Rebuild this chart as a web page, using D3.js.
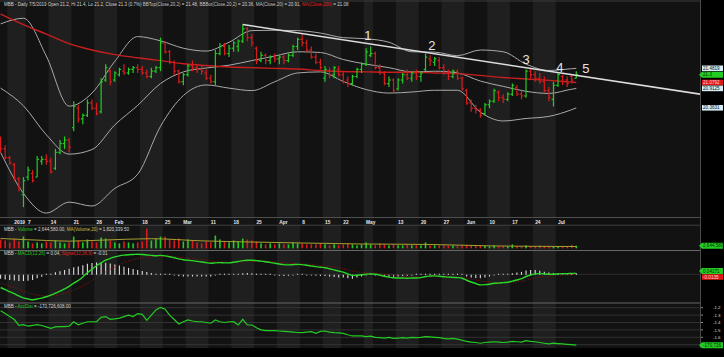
<!DOCTYPE html>
<html><head><meta charset="utf-8">
<script src="https://cdn.jsdelivr.net/npm/d3@7"></script>
<style>
html,body{margin:0;padding:0;background:#000;overflow:hidden}
svg{display:block}
text{font-family:"Liberation Sans",Arial,sans-serif;white-space:pre}
</style></head><body>
<svg id="c" width="724" height="357"></svg>
<script>
// ---------------- DATA ----------------
const firstDay = "2018-12-27", lastDay = "2019-07-05";
const holidays = ["2019-01-01","2019-02-04","2019-02-05","2019-02-06","2019-02-07","2019-02-08","2019-04-15","2019-04-29","2019-04-30","2019-05-01"];

const openP = [19.50,19.20,18.95,18.75,18.35,17.90,18.40,18.50,18.40,18.85,
18.90,18.85,18.65,19.10,19.35,19.45,19.80,20.35,20.05,20.15,
20.50,20.35,20.25,21.15,21.40,21.15,21.30,21.40,21.35,21.45,
21.50,21.45,21.35,21.25,21.40,21.50,22.20,21.95,21.65,21.40,
21.10,21.30,21.55,21.50,21.45,21.35,21.20,21.10,21.90,22.10,
21.90,22.05,22.10,22.25,22.60,22.35,22.05,21.70,21.85,21.70,
21.80,21.75,21.80,21.70,21.85,22.10,22.30,22.20,22.00,21.80,
21.65,21.20,21.40,21.30,21.45,21.30,21.15,21.05,21.25,21.45,
21.60,21.85,21.90,21.50,21.35,21.05,21.15,20.90,21.15,21.30,
21.20,21.35,21.25,21.45,21.75,21.65,21.70,21.50,21.35,21.25,
21.40,21.20,20.85,20.50,20.35,20.30,20.20,20.45,20.55,20.80,
20.65,20.60,20.75,20.95,20.75,20.70,21.40,21.30,21.20,21.10,
20.85,20.60,21.00,21.25,21.15,21.25,21.20];
const highP = [19.55,19.30,19.00,18.80,18.40,18.40,18.70,18.60,19.00,19.00,
19.05,18.95,19.20,19.45,19.55,19.50,20.55,20.45,20.20,20.60,
20.60,20.50,21.20,21.60,21.45,21.40,21.50,21.60,21.50,21.55,
21.60,21.55,21.45,21.50,21.55,22.35,22.25,22.00,21.70,21.45,
21.35,21.60,21.70,21.60,21.55,21.45,21.30,22.00,22.20,22.20,
22.15,22.25,22.30,22.72,22.65,22.45,22.10,21.95,21.90,21.85,
21.90,21.85,21.85,21.90,22.15,22.35,22.45,22.30,22.10,21.90,
21.75,21.55,21.50,21.55,21.55,21.40,21.25,21.30,21.50,21.65,
22.05,22.10,21.95,21.60,21.40,21.25,21.20,21.20,21.35,21.45,
21.40,21.45,21.40,21.90,21.85,21.80,21.80,21.60,21.45,21.45,
21.45,21.25,20.90,20.60,20.45,20.35,20.50,20.60,20.90,20.85,
20.75,20.80,21.05,21.00,20.85,21.45,21.50,21.40,21.35,21.25,
20.95,21.10,21.35,21.30,21.25,21.30,21.40];
const lowP = [19.10,18.90,18.75,18.30,18.00,17.55,18.30,18.25,18.40,18.75,
18.75,18.50,18.60,19.05,19.20,19.10,19.70,19.95,19.90,20.10,
20.30,20.15,20.20,21.10,21.00,21.10,21.25,21.30,21.30,21.35,
21.35,21.30,21.20,21.20,21.35,21.40,21.90,21.60,21.30,21.05,
21.00,21.25,21.40,21.35,21.30,21.15,21.05,21.00,21.85,21.85,
21.80,21.95,21.95,22.20,22.25,22.10,21.60,21.65,21.60,21.60,
21.65,21.60,21.60,21.65,21.80,22.00,22.10,21.95,21.75,21.60,
21.45,21.10,21.20,21.20,21.25,21.05,20.95,21.00,21.20,21.35,
21.55,21.80,21.45,21.30,21.00,20.95,20.80,20.85,21.05,21.15,
21.10,21.15,21.10,21.40,21.55,21.55,21.45,21.30,21.15,21.20,
21.15,20.85,20.45,20.25,20.20,20.08,20.15,20.35,20.50,20.55,
20.50,20.55,20.70,20.70,20.60,20.65,21.20,21.10,21.05,20.80,
20.55,20.40,20.95,21.00,20.95,21.05,21.20];
const closeP = [19.20,18.95,18.80,18.35,18.10,18.30,18.60,18.30,18.90,18.90,
18.85,18.55,19.10,19.35,19.45,19.25,20.40,20.05,20.15,20.50,
20.35,20.20,21.10,21.50,21.10,21.35,21.45,21.35,21.45,21.50,
21.45,21.35,21.25,21.40,21.50,22.20,21.95,21.65,21.40,21.10,
21.30,21.55,21.50,21.45,21.40,21.20,21.10,21.90,22.10,21.90,
22.05,22.20,22.25,22.60,22.35,22.20,21.70,21.85,21.70,21.80,
21.75,21.80,21.70,21.85,22.10,22.30,22.20,22.00,21.80,21.65,
21.50,21.45,21.30,21.50,21.30,21.10,21.05,21.25,21.45,21.60,
21.95,21.90,21.50,21.35,21.05,21.15,20.85,21.15,21.30,21.20,
21.35,21.25,21.35,21.80,21.70,21.75,21.50,21.35,21.25,21.40,
21.20,20.90,20.50,20.35,20.30,20.15,20.45,20.55,20.85,20.65,
20.60,20.75,21.00,20.75,20.70,21.40,21.30,21.20,21.10,20.85,
20.65,21.00,21.30,21.10,21.05,21.15,21.30];

// Bollinger bands / moving averages read at sampled bars
const bandIdx = [0,5,10,15,20,25,30,35,40,45,50,55,60,65,70,75,80,85,90,95,100,105,110,115,120,125,126];
const bbTop = [22.74,22.90,21.83,20.41,20.78,21.68,22.38,22.26,22.05,21.97,22.22,22.55,22.56,22.55,22.48,22.35,22.32,22.22,21.95,21.94,21.84,22.00,21.95,21.60,21.42,21.47,21.48];
const bbMid = [20.92,20.42,19.60,19.05,19.18,19.88,20.43,21.05,21.38,21.49,21.57,21.70,21.83,21.95,21.93,21.73,21.60,21.50,21.38,21.40,21.35,21.12,20.97,20.83,20.77,20.89,20.91];
const bbBot = [19.10,17.94,17.38,17.69,17.58,18.08,18.48,19.84,20.71,21.01,20.92,20.85,21.10,21.35,21.38,21.11,20.88,20.78,20.81,20.86,20.86,20.24,19.99,20.06,20.12,20.31,20.36];
const ma200 = [23.02,22.72,22.45,22.18,22.00,21.87,21.78,21.70,21.61,21.56,21.52,21.50,21.48,21.46,21.42,21.39,21.38,21.37,21.37,21.35,21.33,21.28,21.22,21.18,21.14,21.09,21.08];

// trendline and wave labels (bar index, price)
const trendIdx = [53, 153.1];
const trendPrice = [22.72, 20.75];
const waveLabels = ["1","2","3","4","5"];
const waveIdx = [80.4, 94.4, 115, 122.4, 128.1];
const wavePrice = [22.41, 22.14, 21.72, 21.52, 21.48];

// volume (millions)
const volume = [9,8,6,10,7,12,7,5,6,5, 7,6,8,6,5,6,12,8,6,9, 7,6,11,10,8,6,5,7,6,5,
6,7,20,8,10,12,12,9,8,10, 7,9,8,6,5,7,6,13,9,7, 6,8,7,10,9,8,7,5,4,5,
4,5,4,4,6,5,5,4,4,4, 5,4,3,4,3,4,5,4,3,4, 6,4,3,5,4,3,4,3,3,4,
3,3,3,6,3,3,3,3,2.5,3, 2.5,3,3.5,3,2.5,3,2.5,2,3,2, 2,2,4,2,2,3,2,2,3,2,
2.5,2,2,1.5,2,3.5,2.64];
const volMaIdx = [0,10,15,22,33,44,55,66,79,94,108,126];
const volMa = [10,8.0,7.3,8.3,9.8,7.6,6.4,5.4,4.4,3.9,2.4,1.82];

// MACD and signal
const macd = [-0.60,-0.70,-0.79,-0.88,-0.98,-1.07,-1.12,-1.16,-1.12,-1.08,
-1.02,-0.95,-0.86,-0.77,-0.66,-0.55,-0.40,-0.28,-0.12,0.07,
0.23,0.39,0.52,0.64,0.72,0.79,0.84,0.87,0.89,0.90,
0.91,0.90,0.88,0.86,0.84,0.86,0.84,0.80,0.75,0.70,
0.66,0.64,0.62,0.59,0.56,0.53,0.50,0.52,0.53,0.52,
0.52,0.55,0.58,0.62,0.64,0.64,0.62,0.60,0.57,0.54,
0.50,0.47,0.44,0.43,0.44,0.45,0.44,0.41,0.38,0.35,
0.32,0.30,0.25,0.20,0.15,0.10,0.02,-0.05,-0.04,-0.02,
0.01,0.02,0.00,-0.04,-0.09,-0.13,-0.16,-0.17,-0.17,-0.18,
-0.17,-0.17,-0.15,-0.10,-0.08,-0.07,-0.09,-0.11,-0.13,-0.14,
-0.15,-0.18,-0.27,-0.35,-0.42,-0.48,-0.47,-0.45,-0.41,-0.40,
-0.38,-0.36,-0.31,-0.26,-0.20,-0.10,-0.03,0.02,0.03,0.02,
0.00,0.00,0.02,0.03,0.03,0.04,0.04];
const signal = [-0.40,-0.46,-0.53,-0.60,-0.68,-0.76,-0.83,-0.90,-0.94,-0.97,
-0.98,-0.97,-0.95,-0.91,-0.86,-0.80,-0.72,-0.63,-0.53,-0.41,
-0.28,-0.15,-0.02,0.11,0.23,0.34,0.44,0.53,0.60,0.66,
0.71,0.75,0.78,0.80,0.81,0.82,0.82,0.82,0.81,0.79,
0.76,0.74,0.72,0.69,0.66,0.63,0.60,0.58,0.57,0.56,
0.55,0.55,0.56,0.57,0.58,0.59,0.60,0.60,0.59,0.58,
0.56,0.54,0.52,0.50,0.49,0.48,0.47,0.46,0.44,0.42,
0.40,0.38,0.35,0.32,0.29,0.25,0.20,0.15,0.11,0.08,
0.07,0.06,0.05,0.03,0.01,-0.02,-0.05,-0.07,-0.09,-0.11,
-0.12,-0.13,-0.13,-0.12,-0.11,-0.10,-0.10,-0.10,-0.11,-0.12,
-0.13,-0.14,-0.17,-0.21,-0.25,-0.30,-0.33,-0.35,-0.36,-0.37,
-0.37,-0.37,-0.36,-0.34,-0.31,-0.27,-0.22,-0.17,-0.13,-0.10,
-0.08,-0.06,-0.04,-0.03,-0.02,-0.01,-0.01];

// Accumulation/Distribution (hundreds of millions)
const accDist = [-1.24,-1.28,-1.32,-1.36,-1.44,-1.43,-1.45,-1.44,-1.43,-1.44,
-1.46,-1.48,-1.46,-1.455,-1.457,-1.45,-1.39,-1.43,-1.41,-1.39,
-1.39,-1.39,-1.33,-1.32,-1.357,-1.35,-1.34,-1.32,-1.30,-1.32,
-1.28,-1.29,-1.37,-1.30,-1.23,-1.195,-1.22,-1.30,-1.36,-1.42,
-1.39,-1.366,-1.38,-1.39,-1.39,-1.40,-1.41,-1.366,-1.39,-1.40,
-1.39,-1.389,-1.434,-1.357,-1.434,-1.434,-1.47,-1.50,-1.51,-1.51,
-1.511,-1.515,-1.52,-1.524,-1.53,-1.535,-1.538,-1.53,-1.524,-1.546,
-1.52,-1.515,-1.53,-1.538,-1.54,-1.546,-1.565,-1.582,-1.58,-1.582,
-1.59,-1.585,-1.60,-1.605,-1.61,-1.60,-1.615,-1.61,-1.605,-1.61,
-1.60,-1.605,-1.60,-1.59,-1.595,-1.60,-1.605,-1.615,-1.62,-1.615,
-1.625,-1.64,-1.655,-1.665,-1.67,-1.68,-1.67,-1.665,-1.66,-1.665,
-1.67,-1.665,-1.655,-1.66,-1.665,-1.645,-1.655,-1.66,-1.67,-1.68,
-1.69,-1.68,-1.685,-1.69,-1.695,-1.70,-1.707];
const accTicks = [-1.2,-1.3,-1.4,-1.5,-1.6];

// date axis
const tickDates = ["2019-01-02","2019-01-07","2019-01-14","2019-01-21","2019-01-28","2019-02-01","2019-02-18","2019-02-25","2019-03-01","2019-03-11","2019-03-18","2019-03-25","2019-04-01","2019-04-08","2019-04-16","2019-04-22","2019-05-02","2019-05-13","2019-05-20","2019-05-27","2019-06-03","2019-06-10","2019-06-17","2019-06-24","2019-07-01"];
const tickLabels = ["2019","7","14","21","28","Feb","18","25","Mar","11","18","25","Apr","8","15","22","May","13","20","27","Jun","10","17","24","Jul"];

// right-axis labels
const lastClose = 21.3, lastBBTop = 21.4819, lastBBBot = 20.3631, lastMA20 = 20.9125, lastMA200 = 21.0792;
const lastVolume = 2.64458, lastMacd = 0.04171, lastSignal = -0.0135, lastAcc = -1.70727;

// ---------------- BUILD ----------------
const days = [];
for (let d = new Date(firstDay + "T00:00:00Z"); d <= new Date(lastDay + "T00:00:00Z"); d.setUTCDate(d.getUTCDate() + 1)) {
  const wd = d.getUTCDay(), s = d.toISOString().slice(0, 10);
  if (wd === 0 || wd === 6 || holidays.includes(s)) continue;
  days.push(s);
}
const N = closeP.length;

const W = 724, H = 357, PR = 700;
const UP = "#22cc22", DN = "#d81c1c";
const x = d3.scaleLinear().domain([0, N - 1]).range([0.6, 576.3]);
const bw = x(1) - x(0);
const yP = d3.scaleLinear().domain([17.2, 23.2]).range([219.45, 7.65]);
const yV = d3.scaleLinear().domain([0, 23]).range([248.3, 225.76]);
const yM = d3.scaleLinear().domain([-1.4, 1.3]).range([305.1, 245.7]);
const yA = d3.scaleLinear().domain([-1.2, -1.6]).range([307.7, 337.3]);

const svg = d3.select("#c");
svg.append("rect").attr("width", W).attr("height", H).attr("fill", "#000");
svg.append("rect").attr("x", 0).attr("y", 0).attr("width", PR).attr("height", 348).attr("fill", "#121212");

const defs = svg.append("defs");
function clip(id, y0, y1) {
  defs.append("clipPath").attr("id", id).append("rect").attr("x", 0).attr("y", y0).attr("width", PR).attr("height", y1 - y0);
}
clip("cMain", 8, 217); clip("cVol", 225.5, 250); clip("cMacd", 251, 303); clip("cAcc", 303.5, 348);

// weekly stripes
const weekKey = s => { const d = new Date(s + "T00:00:00Z"); const wd = (d.getUTCDay() + 6) % 7; d.setUTCDate(d.getUTCDate() - wd); return d.toISOString().slice(0, 10); };
const weeks = [];
days.forEach((s, i) => {
  const k = weekKey(s);
  if (!weeks.length || weeks[weeks.length - 1].k !== k) weeks.push({ k, a: i, b: i });
  else weeks[weeks.length - 1].b = i;
});
svg.append("g").selectAll("rect").data(weeks.filter((w, j) => j % 2 === 1)).join("rect")
  .attr("x", w => x(w.a) - bw / 2).attr("width", w => (w.b - w.a + 1) * bw)
  .attr("y", 0).attr("height", 348).attr("fill", "#1f1f1f");

// separators
const sep = svg.append("g").attr("stroke-width", 1);
[[1, "#3a3a3a"], [217.5, "#666"], [225, "#505050"], [250.5, "#666"], [303, "#666"]].forEach(([yy, c]) =>
  sep.append("line").attr("x1", 0).attr("x2", PR).attr("y1", yy).attr("y2", yy).attr("stroke", c));
svg.append("rect").attr("x", 0).attr("y", 217.5).attr("width", PR).attr("height", 7.5).attr("fill", "#0e0e0e").attr("opacity", 0.55);

// ---------- main price panel ----------
const gMain = svg.append("g").attr("clip-path", "url(#cMain)");
const bandLine = arr => d3.line().x((d, k) => x(bandIdx[k])).y(d => yP(d)).curve(d3.curveMonotoneX)(arr);
[bbTop, bbMid, bbBot].forEach(a => gMain.append("path").attr("d", bandLine(a)).attr("fill", "none").attr("stroke", "#a9a9a9").attr("stroke-width", 1));
gMain.append("path").attr("d", bandLine(ma200)).attr("fill", "none").attr("stroke", "#c81e1e").attr("stroke-width", 1.4);

const bars = gMain.append("g").selectAll("g").data(d3.range(N)).join("g")
  .attr("stroke", i => closeP[i] >= openP[i] ? UP : DN).attr("stroke-width", 1.2);
bars.append("line").attr("x1", i => x(i)).attr("x2", i => x(i)).attr("y1", i => yP(highP[i])).attr("y2", i => yP(lowP[i]));
bars.append("line").attr("x1", i => x(i) - 1.8).attr("x2", i => x(i)).attr("y1", i => yP(openP[i])).attr("y2", i => yP(openP[i]));
bars.append("line").attr("x1", i => x(i)).attr("x2", i => x(i) + 1.8).attr("y1", i => yP(closeP[i])).attr("y2", i => yP(closeP[i]));

gMain.append("line").attr("x1", x(trendIdx[0])).attr("y1", yP(trendPrice[0])).attr("x2", x(trendIdx[1])).attr("y2", yP(trendPrice[1]))
  .attr("stroke", "#dcdcdc").attr("stroke-width", 1.5);
svg.append("g").selectAll("text").data(waveLabels).join("text")
  .attr("x", (d, k) => x(waveIdx[k])).attr("y", (d, k) => yP(wavePrice[k]) + 4.6)
  .attr("text-anchor", "middle").attr("font-size", 13).attr("fill", "#e6e6e6").text(d => d);

// title
function title(yy, parts, size) {
  const t = svg.append("text").attr("x", 4).attr("y", yy).attr("font-size", size);
  parts.forEach(([s, c]) => t.append("tspan").attr("fill", c).text(s));
}
const TW = "#d4d4d4";
title(6, [["MBB - Daily 7/5/2019 Open 21.2, Hi 21.4, Lo 21.2, Close 21.3 (0.7%) ", TW], ["BBTop(Close,20,2)", "#c8c8c8"], [" = 21.48, ", TW],
  ["BBBot(Close,20,2)", "#c8c8c8"], [" = 20.36, ", TW], ["MA(Close,20)", "#c8c8c8"], [" = 20.91, ", TW], ["MA(Close,200)", "#e02020"], [" = 21.08", TW]], 4.5);

// date axis labels
svg.append("g").selectAll("text").data(tickLabels).join("text")
  .attr("x", (d, k) => x(days.indexOf(tickDates[k]))).attr("y", 223.6)
  .attr("font-size", 4.8).attr("font-weight", "bold").attr("fill", "#e8e8e8").text(d => d);

// ---------- volume ----------
const gVol = svg.append("g").attr("clip-path", "url(#cVol)");
gVol.selectAll("rect").data(volume).join("rect")
  .attr("x", (d, i) => x(i) - 0.8).attr("width", 1.6)
  .attr("y", d => yV(d)).attr("height", d => yV(0) - yV(d))
  .attr("fill", (d, i) => closeP[i] >= openP[i] ? UP : DN);
gVol.append("path").attr("d", d3.line().x((d, k) => x(volMaIdx[k])).y(d => yV(d)).curve(d3.curveMonotoneX)(volMa))
  .attr("fill", "none").attr("stroke", "#a8a030").attr("stroke-width", 1);
title(230.6, [["MBB - ", TW], ["Volume", "#22cc22"], [" = 2,644,580.00, ", TW], ["MA(Volume,20)", "#c8c040"], [" = 1,820,339.50", TW]], 4.5);

// ---------- MACD ----------
const gM = svg.append("g").attr("clip-path", "url(#cMacd)");
gM.append("line").attr("x1", 0).attr("x2", PR).attr("y1", yM(0)).attr("y2", yM(0)).attr("stroke", "#2e2e2e");
gM.selectAll("line.h").data(d3.range(N)).join("line").attr("class", "h")
  .attr("x1", i => x(i)).attr("x2", i => x(i))
  .attr("y1", yM(0) + 0.5).attr("y2", i => { const v = yM(macd[i] - signal[i]); return Math.abs(v - yM(0)) < 1 ? yM(0) - 0.6 : v; })
  .attr("stroke", "#dedede").attr("stroke-width", 1.1);
gM.append("path").attr("d", d3.line().x((d, i) => x(i)).y(d => yM(d)).curve(d3.curveMonotoneX)(signal))
  .attr("fill", "none").attr("stroke", "#8a1414").attr("stroke-width", 1).attr("stroke-dasharray", "1,1.5");
gM.append("path").attr("d", d3.line().x((d, i) => x(i)).y(d => yM(d)).curve(d3.curveMonotoneX)(macd))
  .attr("fill", "none").attr("stroke", "#2ad82a").attr("stroke-width", 1.4);
title(254.6, [["MBB - ", TW], ["MACD(12,26)", "#22cc22"], [" = 0.04, ", TW], ["Signal(12,26,9)", "#e02020"], [" = -0.01", TW]], 4.5);

// ---------- AccDist ----------
const gA = svg.append("g").attr("clip-path", "url(#cAcc)");
gA.selectAll("line").data(accTicks.concat([-1.7])).join("line")
  .attr("x1", 0).attr("x2", PR).attr("y1", d => yA(d)).attr("y2", d => yA(d)).attr("stroke", "#3a3a3a").attr("stroke-width", 0.8);
gA.append("path").attr("d", d3.line().x((d, i) => x(i)).y(d => yA(d))(accDist))
  .attr("fill", "none").attr("stroke", "#22cc22").attr("stroke-width", 1.2);
title(308.4, [["MBB - ", TW], ["AccDist", "#22cc22"], [" = -170,726,608.00", TW]], 4.5);

svg.append("rect").attr("x", 0).attr("y", 348).attr("width", W).attr("height", 9).attr("fill", "#000");

// ---------- right axis ----------
svg.append("line").attr("x1", PR + 0.5).attr("x2", PR + 0.5).attr("y1", 0).attr("y2", 348).attr("stroke", "#4a4a4a");
function rlabel(yy, txt, bg, fg, arrow) {
  const g = svg.append("g");
  if (arrow) g.append("path").attr("d", `M${PR - 1},${yy} L${PR + 2},${yy - 3} L${PR + 23},${yy - 3} L${PR + 23},${yy + 3} L${PR + 2},${yy + 3} Z`).attr("fill", bg);
  else g.append("rect").attr("x", PR + 2).attr("y", yy - 2.8).attr("width", 21).attr("height", 5.6).attr("fill", bg);
  g.append("text").attr("x", PR + 3).attr("y", yy + 1.7).attr("font-size", 4.6).attr("fill", fg).text(txt);
}
const PALE = "#d4ecf4";
rlabel(yP(lastBBTop), "21.4819", PALE, "#111", false);
rlabel(yP(lastClose), "21.3", UP, "#0a2a0a", true);
rlabel(yP(lastMA200), "21.0792", "#e01818", "#ffd0d0", false);
rlabel(yP(lastMA20), "20.9125", PALE, "#111", false);
rlabel(yP(lastBBBot), "20.3631", PALE, "#111", false);
rlabel(yV(lastVolume), "2,644,580", UP, "#0a2a0a", true);
let ym1 = yM(lastMacd), ym2 = yM(lastSignal);
const mid = (ym1 + ym2) / 2; if (ym2 - ym1 < 6) { ym1 = mid - 3; ym2 = mid + 3; }
rlabel(ym1, "0.04171", UP, "#0a2a0a", true);
rlabel(ym2, "-0.0135", "#e01818", "#ffd0d0", false);
svg.append("g").selectAll("text").data(accTicks).join("text")
  .attr("x", PR + 13).attr("y", d => yA(d) + 1.6).attr("font-size", 4.4).attr("fill", "#dcdcdc").text(d => d.toFixed(1));
svg.append("g").selectAll("line").data(accTicks).join("line")
  .attr("x1", PR + 1).attr("x2", PR + 3).attr("y1", d => yA(d)).attr("y2", d => yA(d)).attr("stroke", "#888");
rlabel(yA(lastAcc), "-170,726...", UP, "#0a2a0a", true);
</script>
</body></html>
